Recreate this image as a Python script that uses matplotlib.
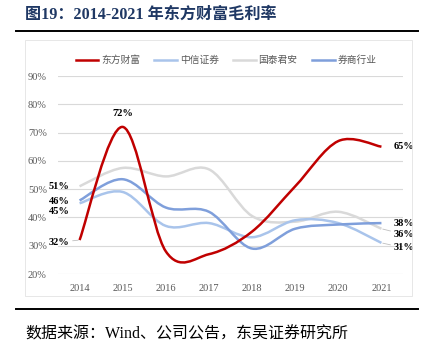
import numpy as np
import matplotlib.pyplot as plt
from matplotlib.path import Path
from matplotlib.patches import PathPatch, Rectangle
from matplotlib.lines import Line2D

# data (gross margin, %)
years = ["2014", "2015", "2016", "2017", "2018", "2019", "2020", "2021"]
dfcf = [32, 72, 28, 27, 35, 51, 67, 65]      # 东方财富
citic = [45, 49, 37, 38, 33, 39, 38, 31]     # 中信证券
gtja = [51, 57.5, 54.5, 57, 40.5, 38.5, 42, 36]  # 国泰君安
industry = [46, 53.5, 43.5, 42, 29, 36, 37.5, 38]  # 券商行业
series_names = ["东方财富", "中信证券", "国泰君安", "券商行业"]
colors = ["#C00000", "#A9C4EB", "#D9D9D9", "#7F9FDB"]

SERIF = ["Liberation Serif", "Noto Sans CJK SC"]
CJK = ["Noto Sans CJK SC", "Liberation Serif"]


def smooth_path(xs, ys):
    # Excel-style smoothed line: cubic bezier through every point
    pts = np.column_stack([xs, ys]).astype(float)
    n = len(pts)
    verts = [pts[0]]
    codes = [Path.MOVETO]
    for i in range(n - 1):
        p0 = pts[i - 1] if i > 0 else pts[i]
        p3 = pts[i + 2] if i + 2 < n else pts[i + 1]
        c1 = pts[i] + (pts[i + 1] - p0) / 6
        c2 = pts[i + 1] - (p3 - pts[i]) / 6
        verts += [c1, c2, pts[i + 1]]
        codes += [Path.CURVE4] * 3
    return Path(verts, codes)


fig = plt.figure(figsize=(4.33, 3.55), dpi=100)

# title and rules
fig.text(25 / 433, 1 - 15 / 355, "图19：2014-2021 年东方财富毛利率", family=SERIF,
         fontsize=11.6, fontweight="bold", color="#1F3864", va="center", ha="left")
fig.add_artist(Line2D([16 / 433, 418 / 433], [1 - 31 / 355] * 2, color="black", lw=1.4))
fig.add_artist(Line2D([16 / 433, 418 / 433], [1 - 309 / 355] * 2, color="black", lw=1.4))
fig.add_artist(Rectangle((25 / 433, 1 - 296 / 355), 387 / 433, 256 / 355,
                         fill=False, edgecolor="#E3E3E3", lw=0.6))
fig.text(25 / 433, 1 - 335 / 355, "数据来源：Wind、公司公告，东吴证券研究所", family=SERIF,
         fontsize=11.5, color="black", va="center", ha="left")

ax = fig.add_axes([58 / 433, 1 - 274 / 355, 345 / 433, 198 / 355])
x = np.arange(len(years))
for vals, c in zip([gtja, citic, industry, dfcf], [colors[2], colors[1], colors[3], colors[0]]):
    ax.add_patch(PathPatch(smooth_path(x, vals), fill=False, edgecolor=c, lw=1.8,
                           capstyle="butt", joinstyle="round"))

ax.set_xlim(-0.5, len(years) - 0.5)
ax.set_ylim(20, 90)
ax.set_yticks(range(20, 91, 10))
ax.set_yticklabels([f"{v}%" for v in range(20, 91, 10)])
ax.set_xticks(x)
ax.set_xticklabels(years)
ax.tick_params(length=0, labelsize=7.5, labelcolor="#595959", pad=7)
ax.tick_params(axis="y", pad=8)
for lab in ax.get_xticklabels() + ax.get_yticklabels():
    lab.set_family(SERIF)
ax.grid(axis="y", color="#D9D9D9", lw=0.8)
ax.set_axisbelow(True)
for s in ax.spines.values():
    s.set_visible(False)

# data labels
lbl = dict(textcoords="offset points", fontsize=7.5, fontweight="bold",
           family=SERIF, va="center", color="black")
lead = dict(arrowstyle="-", color="#BFBFBF", lw=0.6, shrinkA=0, shrinkB=1)
ax.annotate("72%", (1, dfcf[1]), xytext=(0, 9.5), ha="center", **lbl)
ax.annotate("32%", (0, dfcf[0]), xytext=(-7, -1.5), ha="right", arrowprops=lead, **lbl)
ax.annotate("51%", (0, gtja[0]), xytext=(-7, 0), ha="right", **lbl)
ax.annotate("46%", (0, industry[0]), xytext=(-7, -0.5), ha="right", **lbl)
ax.annotate("45%", (0, citic[0]), xytext=(-7, -6), ha="right", **lbl)
ax.annotate("65%", (7, dfcf[-1]), xytext=(8.5, 0), ha="left", **lbl)
ax.annotate("38%", (7, industry[-1]), xytext=(8.5, -0.5), ha="left", **lbl)
ax.annotate("36%", (7, gtja[-1]), xytext=(8.5, -4), ha="left", arrowprops=lead, **lbl)
ax.annotate("31%", (7, citic[-1]), xytext=(8.5, -3.5), ha="left", arrowprops=lead, **lbl)

handles = [Line2D([], [], color=c, lw=1.8) for c in colors]
fig.legend(handles, series_names, loc="center", bbox_to_anchor=(226 / 433, 1 - 60 / 355),
           ncol=4, frameon=False, prop={"family": CJK, "size": 7},
           handlelength=2.3, handletextpad=0.3, columnspacing=1.5, labelcolor="#595959")

fig.savefig("out.png", dpi=100)
